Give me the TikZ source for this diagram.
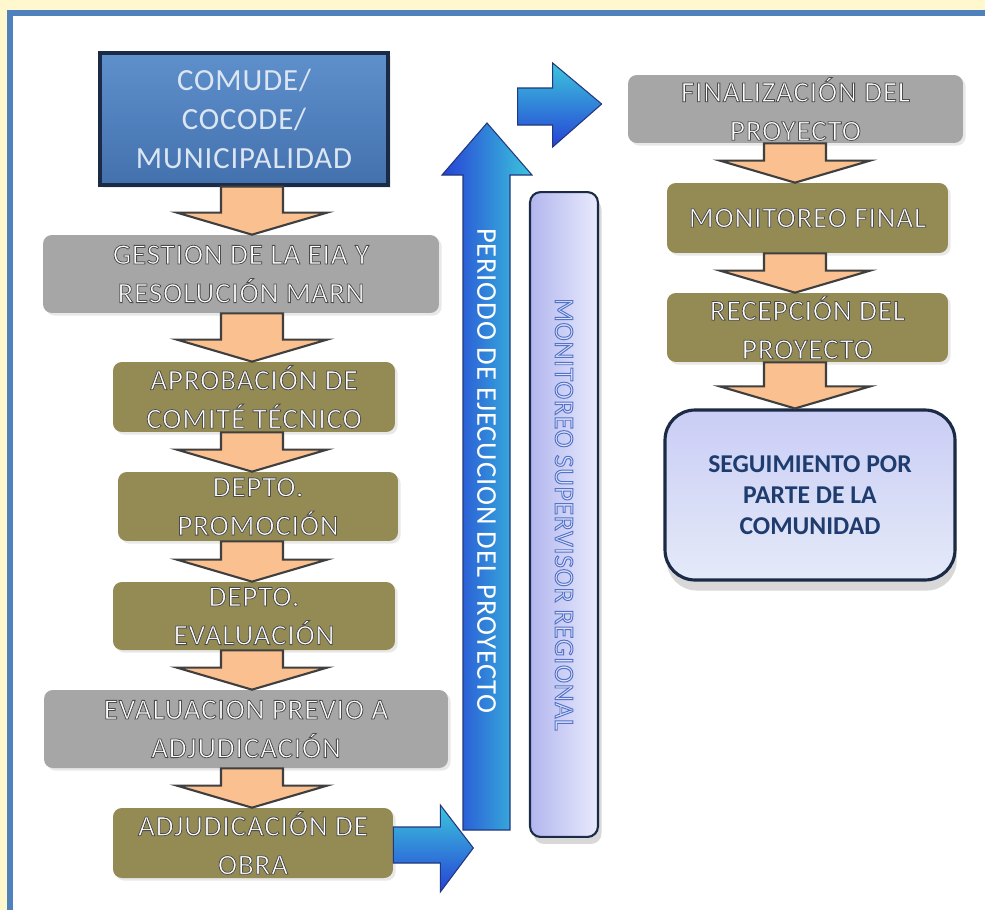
\documentclass[tikz,border=0pt]{standalone}
\usepackage{fontspec}
\setmainfont{Carlito}
\newfontfamily\boxfont[LetterSpace=3]{Carlito}
\usetikzlibrary{calc,shadows}

\definecolor{cream}{HTML}{FFF8CF}
\definecolor{frameblue}{HTML}{4F81BD}
\definecolor{olivebox}{HTML}{948A54}
\definecolor{graybox}{HTML}{A6A6A6}
\definecolor{arroworange}{HTML}{FAC090}
\definecolor{arrowedge}{HTML}{3F3F3F}
\definecolor{navyedge}{HTML}{1B2B45}
\definecolor{comudetop}{HTML}{5E90CC}
\definecolor{comudebot}{HTML}{4371AE}
\definecolor{comudetext}{HTML}{DCE6F2}
\definecolor{bluedark}{HTML}{2642D6}
\definecolor{bluemid}{HTML}{8C8EF2}
\definecolor{bluecyan}{HTML}{3CC6DC}
\definecolor{blueedge}{HTML}{22387E}
\definecolor{lavleft}{HTML}{B2B6EE}
\definecolor{lavright}{HTML}{E8EAFC}
\definecolor{lavtext}{HTML}{DCE2FA}
\definecolor{seguitop}{HTML}{CACDF5}
\definecolor{seguimid}{HTML}{A9AEEE}
\definecolor{seguibot}{HTML}{E4EAF8}
\definecolor{seguitext}{HTML}{1F3C6E}

% light letters with a thin dark contour (fill, then stroke)
\newcommand\darkrim[1]{\special{pdf:literal direct 2 Tr 0.3 0.3 0.3 RG 0.45 w}#1\special{pdf:literal direct 0 Tr}}
\newcommand\bluerim[1]{\special{pdf:literal direct 2 Tr 0.33 0.45 0.78 RG 0.55 w}#1\special{pdf:literal direct 0 Tr}}

\tikzset{
  stepbox/.style={rounded corners=5pt, inner sep=0pt, align=center,
    text=white, font=\boxfont\fontsize{16.5}{22}\selectfont,
    drop shadow={opacity=0.18, shadow xshift=1.5pt, shadow yshift=-1.5pt}},
  olivestep/.style={stepbox, fill=olivebox},
  graystep/.style={stepbox, fill=graybox},
  orangearrow/.style={fill=arroworange, draw=arrowedge, line width=1.2pt, line join=miter},
  bluearrowh/.style={top color=bluecyan, middle color=bluemid, bottom color=bluedark,
    draw=blueedge, line width=0.6pt, line join=miter},
  bluearrowv/.style={left color=bluedark, middle color=bluemid, right color=bluecyan,
    draw=blueedge, line width=0.6pt, line join=miter}
}

% block arrow pointing down from node #1 to node #2, centred on the x of #3
\newcommand\orangedown[3]{%
  \draw[orangearrow]
    ($(#1.south -| #3)+(-31,0)$) -- ($(#2.north -| #3)+(-31,-22)$)
    -- ($(#2.north -| #3)+(-75,-22)$) -- (#2.north -| #3)
    -- ($(#2.north -| #3)+(75,-22)$) -- ($(#2.north -| #3)+(31,-22)$)
    -- ($(#1.south -| #3)+(31,0)$) -- cycle;}

\begin{document}
\begin{tikzpicture}[x=0.02cm, y=-0.02cm]
  % page and frame
  \fill[cream] (0,0) rectangle (985,910);
  \useasboundingbox (0,0) rectangle (985,910);
  \fill[frameblue] (7,10) rectangle (985,910);
  \fill[white] (13,16) rectangle (985,910);

  \coordinate (leftcol) at (252,0);
  \coordinate (rightcol) at (795,0);

  % left column
  \node[top color=comudetop, bottom color=comudebot, draw=navyedge, line width=1.8pt,
        minimum width=5.76cm, minimum height=2.64cm, inner sep=0pt, align=center,
        text=comudetext, font=\boxfont\fontsize{17.5}{22}\selectfont,
        drop shadow={opacity=0.15, shadow xshift=1.5pt, shadow yshift=-1.5pt}]
        (comude) at (244,119) {COMUDE/\\COCODE/\\MUNICIPALIDAD};
  \node[graystep, minimum width=7.92cm, minimum height=1.56cm]
        (gestion) at (241,274) {\darkrim{GESTION DE LA EIA Y\\RESOLUCIÓN MARN}};
  \node[olivestep, minimum width=5.64cm, minimum height=1.4cm]
        (aprob) at (254,397) {\darkrim{APROBACIÓN DE\\COMITÉ TÉCNICO}};
  \node[olivestep, minimum width=5.6cm, minimum height=1.38cm]
        (promo) at (258,506.5) {\darkrim{DEPTO.\\PROMOCIÓN}};
  \node[olivestep, minimum width=5.64cm, minimum height=1.36cm]
        (evalua) at (254,616) {\darkrim{DEPTO.\\EVALUACIÓN}};
  \node[graystep, minimum width=8.08cm, minimum height=1.56cm]
        (previo) at (246,729) {\darkrim{EVALUACION PREVIO A\\ADJUDICACIÓN}};
  \node[olivestep, minimum width=5.6cm, minimum height=1.4cm]
        (adj) at (253,843) {\darkrim{ADJUDICACIÓN DE\\OBRA}};

  \orangedown{comude}{gestion}{leftcol}
  \orangedown{gestion}{aprob}{leftcol}
  \orangedown{aprob}{promo}{leftcol}
  \orangedown{promo}{evalua}{leftcol}
  \orangedown{evalua}{previo}{leftcol}
  \orangedown{previo}{adj}{leftcol}

  % execution period arrow
  \draw[bluearrowv] (463,830) -- (463,175) -- (442,175) -- (487,123)
    -- (532,175) -- (510,175) -- (510,830) -- cycle;
  \node[rotate=-90, text=white, font=\boxfont\fontsize{16.3}{20}\selectfont]
        (periodo) at (486.5,471) {PERIODO DE EJECUCION DEL PROYECTO};

  % regional supervision bar
  \node[rounded corners=6pt, left color=lavleft, right color=lavright,
        draw=navyedge, line width=1.2pt, minimum width=1.36cm, minimum height=12.9cm,
        inner sep=0pt,
        drop shadow={opacity=0.3, shadow xshift=2pt, shadow yshift=-4pt}]
        (monbar) at (564,514.5) {};
  \node[rotate=-90, text=lavtext, font=\boxfont\fontsize{15.6}{20}\selectfont]
        (montext) at (monbar.center) {\bluerim{MONITOREO SUPERVISOR REGIONAL}};

  % right column
  \node[graystep, minimum width=6.7cm, minimum height=1.36cm]
        (final) at (795.5,109) {\darkrim{FINALIZACIÓN DEL\\PROYECTO}};
  \node[olivestep, minimum width=5.62cm, minimum height=1.4cm]
        (monfin) at (807.5,218) {\darkrim{MONITOREO FINAL}};
  \node[olivestep, minimum width=5.62cm, minimum height=1.38cm]
        (recep) at (807.5,327.5) {\darkrim{RECEPCIÓN DEL\\PROYECTO}};
  \node[rounded corners=0.6cm, top color=seguitop, middle color=seguimid,
        bottom color=seguibot, draw=navyedge, line width=1.8pt,
        minimum width=5.8cm, minimum height=3.4cm, inner sep=0pt, align=center,
        text=seguitext, font=\bfseries\fontsize{14.6}{17.6}\selectfont,
        drop shadow={opacity=0.3, shadow xshift=1pt, shadow yshift=-6pt}]
        (segui) at (810,495) {SEGUIMIENTO POR\\PARTE DE LA\\COMUNIDAD};

  \orangedown{final}{monfin}{rightcol}
  \orangedown{monfin}{recep}{rightcol}
  \orangedown{recep}{segui}{rightcol}

  % hand-over arrows
  \draw[bluearrowh] ($(adj.east)+(0,-16)$) -- ($(adj.east)+(47,-16)$)
    -- ($(adj.east)+(47,-38)$) -- ($(adj.east)+(80,5)$)
    -- ($(adj.east)+(47,49)$) -- ($(adj.east)+(47,20)$)
    -- ($(adj.east)+(0,20)$) -- cycle;
  \draw[bluearrowh] ($(final.west)+(-110,-21)$) -- ($(final.west)+(-75,-21)$)
    -- ($(final.west)+(-75,-46)$) -- ($(final.west)+(-26,-5)$)
    -- ($(final.west)+(-75,38)$) -- ($(final.west)+(-75,16)$)
    -- ($(final.west)+(-110,16)$) -- cycle;
\end{tikzpicture}
\end{document}
